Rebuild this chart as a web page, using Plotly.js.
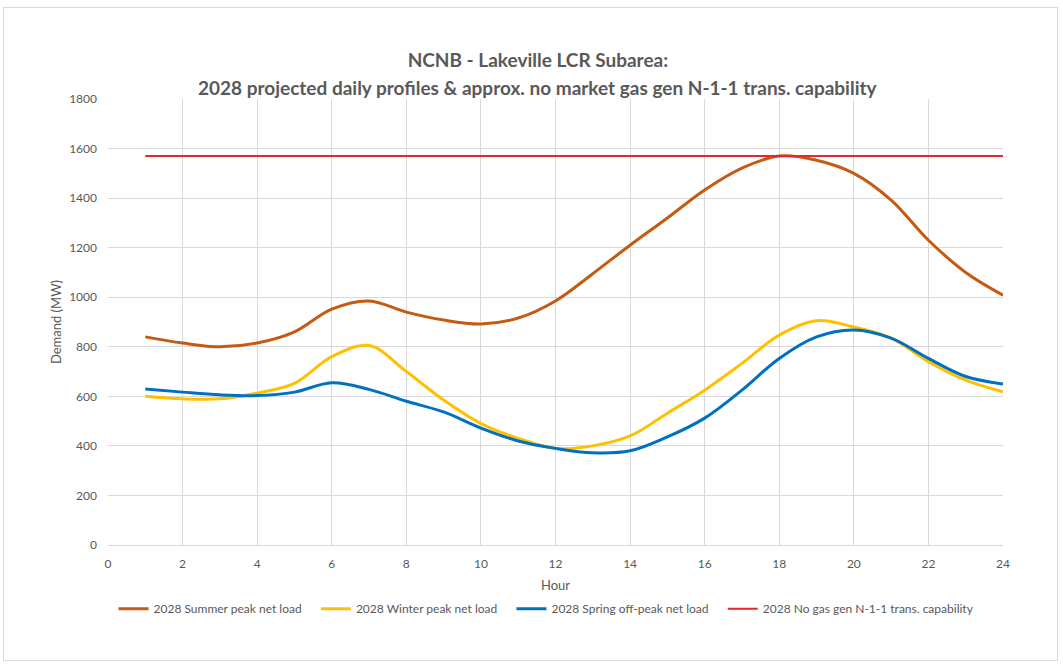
<!DOCTYPE html>
<html>
<head>
<meta charset="utf-8">
<script src="https://cdn.plot.ly/plotly-3.0.1.min.js"></script>
<style>
html,body{margin:0;padding:0;background:#fff;}
#frame{position:absolute;left:3px;top:7px;width:1055px;height:654px;border:1px solid #d9d9d9;box-sizing:border-box;pointer-events:none;z-index:10;}
#chart{width:1063px;height:668px;}
</style>
</head>
<body>
<div id="frame"></div>
<div id="chart"></div>
<script>
const hours = [1,2,3,4,5,6,7,8,9,10,11,12,13,14,15,16,17,18,19,20,21,22,23,24];
const summerPeak = [840,815,800,815,860,952,985,940,908,892,916,985,1095,1210,1320,1433,1521,1570,1553,1500,1392,1230,1100,1008];
const winterPeak = [600,590,590,613,652,760,805,700,585,490,430,390,400,440,532,625,733,847,905,880,835,740,665,618];
const springOffPeak = [630,617,606,603,617,655,628,580,537,472,420,390,372,380,436,512,625,753,840,868,835,753,680,650];
const capability = hours.map(() => 1570);
const seriesNames = ['2028 Summer peak net load','2028 Winter peak net load','2028 Spring off-peak net load','2028 No gas gen N-1-1 trans. capability'];
const titleLines = ['NCNB - Lakeville LCR Subarea:','2028 projected daily profiles & approx. no market gas gen N-1-1 trans. capability'];
const xTicks = [0,2,4,6,8,10,12,14,16,18,20,22,24];
const yTicks = [0,200,400,600,800,1000,1200,1400,1600,1800];

const font = "Lato, 'Open Sans', sans-serif";
const pad = '\u00a0\u00a0\u00a0';
const traces = [
  {x:hours, y:summerPeak, name:seriesNames[0]+pad, mode:'lines', line:{color:'#c55a11', width:3, shape:'spline', smoothing:1}},
  {x:hours, y:winterPeak, name:seriesNames[1]+pad, mode:'lines', line:{color:'#ffc000', width:3, shape:'spline', smoothing:1}},
  {x:hours, y:springOffPeak, name:seriesNames[2]+pad, mode:'lines', line:{color:'#0070c0', width:3, shape:'spline', smoothing:1}},
  {x:hours, y:capability, name:seriesNames[3], mode:'lines', line:{color:'#e8262b', width:2}}
];
const layout = {
  width:1063, height:668,
  margin:{l:108, r:60, t:99, b:123},
  paper_bgcolor:'#fff', plot_bgcolor:'#fff',
  font:{family:font, color:'#595959', size:12},
  title:{text:'<b>'+titleLines[0]+'</b>',
    font:{family:font, size:19, color:'#595959'}, x:0.506, xanchor:'center', yref:'container', y:0.91, yanchor:'middle'},
  annotations:[{text:'<b>'+titleLines[1]+'</b>', xref:'paper', yref:'paper', x:0.4804, y:1.0247, xanchor:'center', yanchor:'middle',
    showarrow:false, font:{family:font, size:19, color:'#595959'}}],
  xaxis:{range:[0,24], tickvals:xTicks, ticktext:xTicks.map(String), showgrid:true, gridcolor:'#d9d9d9', gridwidth:1,
    zeroline:false, showline:true, linecolor:'#d9d9d9', ticks:'', ticklabelstandoff:8, tickfont:{size:12, color:'#595959'},
    title:{text:'Hour', font:{size:13, color:'#595959'}, standoff:10}},
  yaxis:{range:[0,1800], tickvals:yTicks, ticktext:yTicks.map(String), showgrid:true, gridcolor:'#d9d9d9', gridwidth:1,
    zeroline:false, showline:false, ticks:'', ticklabelstandoff:10, tickfont:{size:12, color:'#595959'},
    title:{text:'Demand (MW)', font:{size:13, color:'#595959'}, standoff:4}},
  showlegend:true,
  legend:{orientation:'h', x:0.49, xanchor:'center', y:-0.143, yanchor:'middle',
    font:{size:12, color:'#595959'}, itemwidth:30, tracegroupgap:0}
};
Plotly.newPlot('chart', traces, layout, {displayModeBar:false, staticPlot:true});
</script>
</body>
</html>
